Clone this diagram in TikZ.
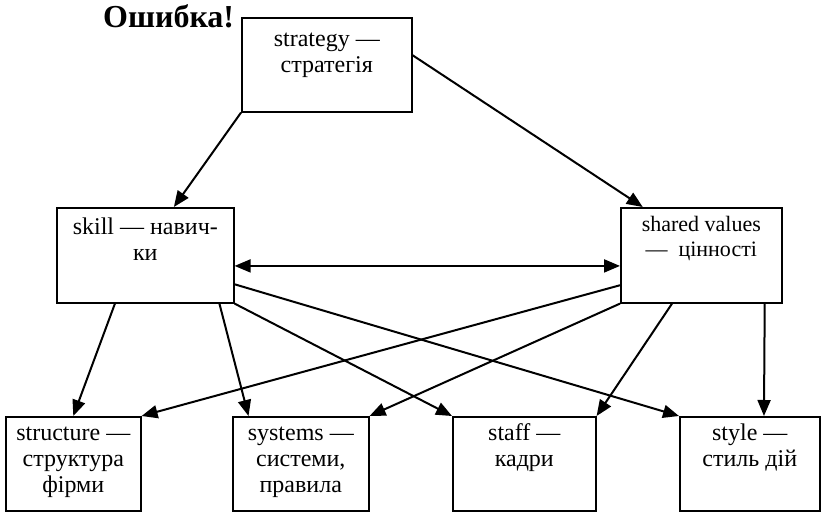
\documentclass[tikz,border=0pt]{standalone}
\usepackage{fontspec}
\setmainfont{Liberation Serif}
\usetikzlibrary{arrows.meta}
\usetikzlibrary{calc}

\begin{document}
\begin{tikzpicture}[x=1pt,y=-1pt,>={Triangle[length=16pt,width=13pt]},
    box node/.style={draw,line width=1.6pt,inner sep=0pt,anchor=north west},
    text node/.style={anchor=base,align=center,inner sep=0pt,font=\fontsize{24}{26}\selectfont},
    link/.style={->,line width=2pt}]
  \useasboundingbox (0,0) rectangle (821,511);
  \node[anchor=base west,inner sep=0pt,font=\fontsize{32}{34}\bfseries\selectfont] (err) at (103,28) {Ошибка!};
  % boxes
  \node[box node,minimum width=170pt,minimum height=94pt] (strat) at (241,17) {};
  \node[box node,minimum width=177pt,minimum height=95pt] (skill) at (56,207) {};
  \node[box node,minimum width=161pt,minimum height=95pt] (values) at (620,207) {};
  \node[box node,minimum width=135pt,minimum height=94pt] (struct) at (5,416) {};
  \node[box node,minimum width=136pt,minimum height=94pt] (sys) at (232,416) {};
  \node[box node,minimum width=143pt,minimum height=94pt] (staff) at (452,416) {};
  \node[box node,minimum width=140pt,minimum height=94pt] (style) at (679,416) {};
  % texts (base = last line)
  \node[text node] (strat-t) at ([yshift=-56pt]strat.north) {strategy —\\стратегія};
  \node[text node] (skill-t) at ([yshift=-53pt]skill.north) {skill — навич-\\ки};
  \node[text node,font=\fontsize{22}{25}\selectfont] (values-t) at ([yshift=-49pt]values.north) {shared values\\—\ \ цінності};
  \node[text node] (struct-t) at ([yshift=-76pt]struct.north) {structure —\\структура\\фірми};
  \node[text node] (sys-t) at ([yshift=-76pt]sys.north) {systems —\\системи,\\правила};
  \node[text node] (staff-t) at ([yshift=-50pt]staff.north) {staff —\\кадри};
  \node[text node] (style-t) at ([yshift=-50pt]style.north) {style —\\стиль дій};
  % links
  \draw[link] (strat.south west) -- ($(skill.north west)!0.66!(skill.north east)$);
  \draw[link] ($(strat.north east)!0.4!(strat.south east)$) -- ($(values.north west)!0.14!(values.north east)$);
  \draw[link,<->] ($(skill.north east)!0.61!(skill.south east)$) -- ($(values.north west)!0.61!(values.south west)$);
  \draw[link] ($(skill.south west)!0.33!(skill.south east)$) -- (struct.north);
  \draw[link] ($(skill.south west)!0.915!(skill.south east)$) -- ($(sys.north west)!0.12!(sys.north east)$);
  \draw[link] ($(skill.north east)!0.8!(skill.south east)$) -- (style.north west);
  \draw[link] (skill.south east) -- (staff.north west);
  \draw[link] ($(values.north west)!0.81!(values.south west)$) -- (struct.north east);
  \draw[link] (values.south west) -- (sys.north east);
  \draw[link] ($(values.south west)!0.32!(values.south east)$) -- (staff.north east);
  \draw[link] ($(values.south west)!0.89!(values.south east)$) -- ($(style.north west)!0.6!(style.north east)$);
\end{tikzpicture}
\end{document}
